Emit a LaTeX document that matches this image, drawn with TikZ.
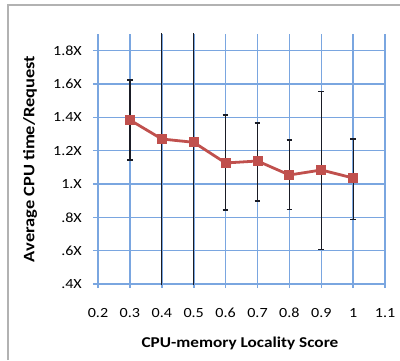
\documentclass[tikz,border=0pt]{standalone}
\usepackage{fontspec}
\setmainfont{Carlito}[FakeStretch=1.15]
\usetikzlibrary{arrows.meta, positioning}
\definecolor{gridblue}{RGB}{122,166,224}
\definecolor{lnred}{RGB}{192,80,77}
\definecolor{barblack}{RGB}{25,28,38}

\begin{document}
\begin{tikzpicture}[x=319pt, y=166.7pt, font=\fontsize{14}{16}\selectfont,
    gridline/.style={gridblue, line width=1.6pt},
    errbar/.style={barblack, line width=1.3pt},
    marker/.style={fill=lnred, draw=none, minimum size=10pt, inner sep=0pt},
    ticklbl/.style={inner sep=0pt}]
  \useasboundingbox (-0.1072,-0.0558) rectangle (1.1467,2.1038);

  % Chart frame
  \draw[gray!60, line width=1.2pt] (-0.082,-0.0558) -- (-0.082,2.074) -- (1.1467,2.074);

  % Grid
  \foreach \x in {0.2,0.3,...,1.15}
    \draw[gridline] (\x,0.376) -- (\x,1.9);
  \foreach \y in {0.4,0.6,...,1.85}
    \draw[gridline] (0.184,\y) -- (1.1,\y);

  % Tick labels
  \foreach \y/\t in {0.4/.4X, 0.6/.6X, 0.8/.8X, 1.0/1.X, 1.2/1.2X, 1.4/1.4X, 1.6/1.6X, 1.8/1.8X}
    \node[ticklbl, anchor=east] (yl\t) at (0.15,\y) {\t};
  \foreach \x/\t in {0.2/0.2, 0.3/0.3, 0.4/0.4, 0.5/0.5, 0.6/0.6, 0.7/0.7, 0.8/0.8, 0.9/0.9, 1.0/1, 1.1/1.1}
    \node[ticklbl] (xl\t) at (\x,0.226) {\t};

  % Axis titles
  \node[font=\fontsize{15}{17}\selectfont\bfseries] (xtitle) at (0.645,0.046) {CPU-memory Locality Score};
  \node[font=\fontsize{16}{18}\selectfont\bfseries, rotate=90] (ytitle) at (-0.013,1.15) {Average CPU time/Request};

  % Error bars (clipped to the plot area)
  \begin{scope}
    \clip (0.15,0.4) rectangle (1.15,1.9);
    \foreach \x/\m/\lo/\hi [count=\i] in {
      0.3/1.384/1.144/1.624,
      0.4/1.270/0.200/2.300,
      0.5/1.250/0.200/2.300,
      0.6/1.126/0.844/1.414,
      0.7/1.138/0.898/1.366,
      0.8/1.054/0.846/1.264,
      0.9/1.084/0.606/1.554,
      1.0/1.036/0.788/1.270
    }{
      \coordinate (p\i) at (\x,\m);
      \draw[errbar] (\x,\lo) -- (\x,\hi);
      \draw[errbar] (\x-0.009,\lo) -- (\x+0.009,\lo);
      \draw[errbar] (\x-0.009,\hi) -- (\x+0.009,\hi);
    }
  \end{scope}

  % Series
  \draw[lnred, line width=2.8pt, line join=round]
    (p1) -- (p2) -- (p3) -- (p4) -- (p5) -- (p6) -- (p7) -- (p8);
  \foreach \i in {1,...,8}
    \node[marker] (m\i) at (p\i) {};
\end{tikzpicture}
\end{document}
